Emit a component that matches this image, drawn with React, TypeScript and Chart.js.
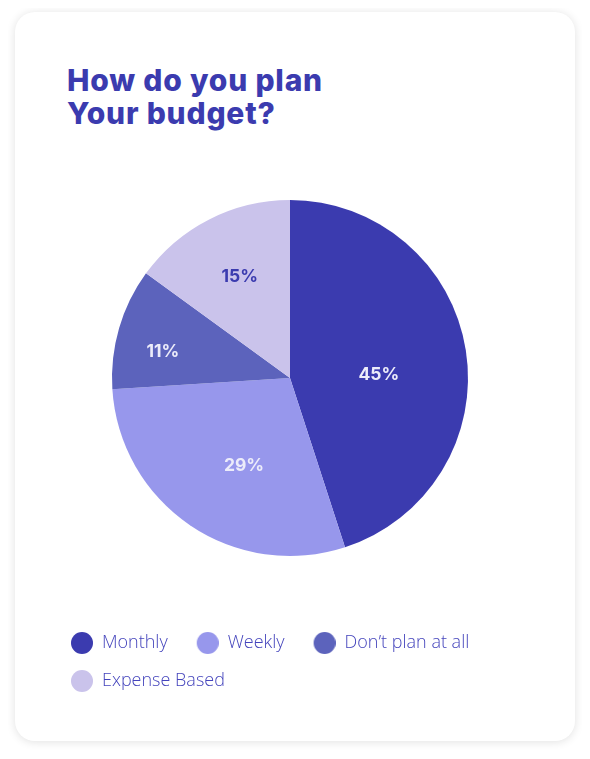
import React, { useEffect, useRef } from "react";
import { Chart, registerables } from "chart.js";

Chart.register(...registerables);

const titleLines = ["How do you plan", "Your budget?"];
const categories = ["Monthly", "Weekly", "Don’t plan at all", "Expense Based"];
const shares = [45, 29, 11, 15];
const sliceColors = ["#3B3BAF", "#9797EC", "#5C63BC", "#CAC3EB"];
const labelColors = ["#ECECFA", "#ECECFA", "#ECECFA", "#3B3BAF"];
const legendTextColor = "#4444BC";

function makeDot(color: string): HTMLCanvasElement {
  const c = document.createElement("canvas");
  c.width = 31;
  c.height = 22;
  const g = c.getContext("2d")!;
  g.fillStyle = color;
  g.beginPath();
  g.arc(20, 11, 11, 0, Math.PI * 2);
  g.fill();
  return c;
}

const sliceLabelPlugin = {
  id: "sliceLabels",
  afterDatasetsDraw(chart: any, _args: any, opts: any) {
    const meta = chart.getDatasetMeta(0);
    const ctx = chart.ctx;
    ctx.save();
    ctx.font = "700 17.5px Inter";
    ctx.textAlign = "center";
    ctx.textBaseline = "middle";
    meta.data.forEach((arc: any, i: number) => {
      const p = arc.getProps(["x", "y", "startAngle", "endAngle", "outerRadius"], true);
      const a = (p.startAngle + p.endAngle) / 2 + ((opts.angleShift[i] || 0) * Math.PI) / 180;
      const r = p.outerRadius * opts.radiusFactor[i];
      ctx.fillStyle = labelColors[i];
      ctx.fillText(`${shares[i]}%`, p.x + Math.cos(a) * r, p.y + Math.sin(a) * r + 1);
    });
    ctx.restore();
  },
};

export default function App() {
  const ref = useRef<HTMLCanvasElement>(null);

  useEffect(() => {
    if (!ref.current) return;
    const dots = sliceColors.map(makeDot);
    const chart = new Chart(ref.current, {
      type: "pie",
      data: {
        labels: categories,
        datasets: [
          {
            data: shares,
            backgroundColor: sliceColors,
            borderWidth: 0,
            radius: 178,
            rotation: 0,
          } as any,
        ],
      },
      options: {
        responsive: false,
        animation: false,
        events: [],
        layout: { padding: { left: 27, right: 37, top: 0, bottom: 0 } },
        plugins: {
          legend: {
            position: "bottom",
            align: "start",
            labels: {
              usePointStyle: true,
              pointStyleWidth: 31,
              padding: 20,
              color: legendTextColor,
              font: { family: "'Open Sans'", size: 18, weight: "300" as any },
              generateLabels: () =>
                categories.map((text, i) => ({
                  text,
                  fillStyle: sliceColors[i],
                  strokeStyle: sliceColors[i],
                  fontColor: legendTextColor,
                  lineWidth: 0,
                  pointStyle: dots[i],
                  hidden: false,
                  index: i,
                })) as any,
            },
          },
          tooltip: { enabled: false },
          sliceLabels: {
            radiusFactor: [0.5, 0.55, 0.73, 0.64],
            angleShift: [6.4, -6.2, -4.1, 0.8],
          },
        } as any,
      },
      plugins: [sliceLabelPlugin],
    });
    return () => chart.destroy();
  }, []);

  return (
    <div style={{ position: "relative", width: 574, height: 743 }}>
      <div
        style={{
          position: "absolute",
          left: 7,
          top: 4,
          width: 560,
          height: 729,
          borderRadius: 20,
          background: "#ffffff",
          boxShadow: "0 1px 10px rgba(0,0,0,0.12)",
        }}
      >
        <div
          style={{
            position: "absolute",
            left: 52,
            top: 52,
            fontFamily: "Inter, sans-serif",
            fontWeight: 800,
            fontSize: 30,
            lineHeight: "32.5px",
            letterSpacing: "0.8px",
            color: "#3B3BAF",
            whiteSpace: "nowrap",
          }}
        >
          {titleLines.map((l) => (
            <div key={l}>{l}</div>
          ))}
        </div>
        <canvas
          ref={ref}
          width={560}
          height={558}
          style={{ position: "absolute", left: 0, top: 130, display: "block" }}
        />
      </div>
    </div>
  );
}
